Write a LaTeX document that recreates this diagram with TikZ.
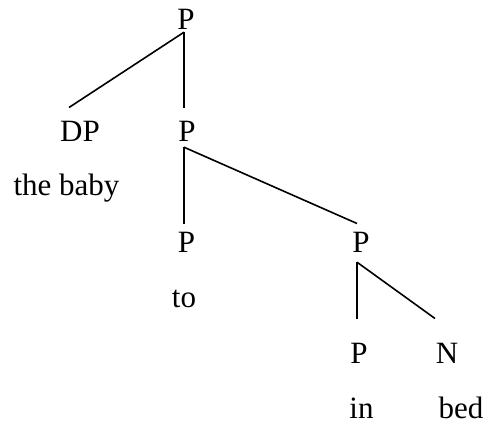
\documentclass[tikz,border=0pt]{standalone}
\usepackage{fontspec}
\setmainfont{Liberation Serif}
\usepackage{tikz}

\begin{document}
\begin{tikzpicture}[x=1pt, y=-1pt,
        lbl/.style={anchor=base, inner sep=0pt, font=\fontsize{31}{37}\selectfont},
        branch/.style={line width=1.6pt}]
        \useasboundingbox (0,0) rectangle (488,425);

        \node[lbl] (ptop) at (186, 30) {P};
        \node[lbl] (dp) at (80, 142) {DP};
        \node[lbl] (pa) at (187, 142) {P};
        \node[lbl] (baby) at (66.5, 196) {the baby};
        \node[lbl] (pb) at (186.5, 253) {P};
        \node[lbl] (to) at (184, 308) {to};
        \node[lbl] (pc) at (361, 253) {P};
        \node[lbl] (pd) at (359, 363) {P};
        \node[lbl] (nn) at (447, 363) {N};
        \node[lbl] (in) at (361.5, 418) {in};
        \node[lbl] (bed) at (461, 418) {bed};

        \draw[branch] ([xshift=-2pt, yshift=-2pt]ptop.south) -- ([xshift=-11pt, yshift=14pt]dp.north);
        \draw[branch] ([xshift=-2pt, yshift=-2pt]ptop.south) -- ([xshift=-3pt, yshift=14pt]pa.north);
        \draw[branch] ([xshift=-3pt, yshift=-5pt]pa.south) -- ([xshift=-2.5pt, yshift=9pt]pb.north);
        \draw[branch] ([xshift=-3pt, yshift=-5pt]pa.south) -- ([xshift=-4pt, yshift=9pt]pc.north);
        \draw[branch] ([xshift=-4pt, yshift=-9pt]pc.south) -- ([xshift=-2pt, yshift=24pt]pd.north);
        \draw[branch] ([xshift=-4pt, yshift=-9pt]pc.south) -- ([xshift=-12pt, yshift=24pt]nn.north);
    \end{tikzpicture}
\end{document}
